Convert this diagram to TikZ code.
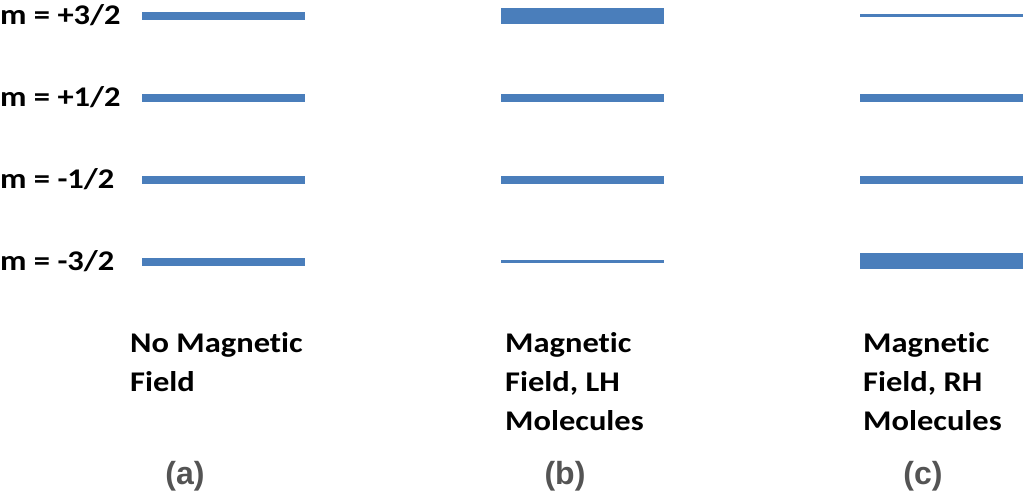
\documentclass[tikz,border=0pt]{standalone}
\usepackage{fontspec}
\setmainfont[Ligatures=NoCommon]{Carlito}
\newfontfamily\parfont{Liberation Sans}
\definecolor{barblue}{RGB}{74,126,187}
\definecolor{pargray}{RGB}{84,84,84}
\begin{document}
\begin{tikzpicture}[x=1pt,y=-1pt,
  bar/.style={rectangle, fill=barblue, draw=none, inner sep=0pt, minimum width=163pt},
  mid/.style={bar, minimum height=8pt},
  thick/.style={bar, minimum height=16pt},
  thin/.style={bar, minimum height=3pt},
  lab/.style={font=\bfseries\fontsize{28.5}{39}\selectfont, xscale=1.14, transform shape, inner sep=0pt, anchor=base west, align=left},
  par/.style={font=\parfont\bfseries\fontsize{32}{34}\selectfont, text=pargray, inner sep=0pt, anchor=base}]
\useasboundingbox (0,0) rectangle (1024,494);
% left labels
\node[lab] (m1) at (0,25) {m = +3/2};
\node[lab] (m2) at (0,107) {m = +1/2};
\node[lab] (m3) at (0,189) {m = -1/2};
\node[lab] (m4) at (0,270) {m = -3/2};
% column a
\node[mid] (a1) at (223.5,16) {};
\node[mid] (a2) at (223.5,98) {};
\node[mid] (a3) at (223.5,180) {};
\node[mid] (a4) at (223.5,262) {};
% column b
\node[thick] (b1) at (582.5,16) {};
\node[mid] (b2) at (582.5,98) {};
\node[mid] (b3) at (582.5,180) {};
\node[thin] (b4) at (582.5,261) {};
% column c
\node[thin] (c1) at (941.5,16) {};
\node[mid] (c2) at (941.5,98) {};
\node[mid] (c3) at (941.5,180) {};
\node[thick] (c4) at (941.5,261) {};
% captions (base anchor = last line)
\node[lab] (ta) at (130,391) {No Magnetic\\Field};
\node[lab] (tb) at (505,430) {Magnetic\\Field, LH\\Molecules};
\node[lab] (tc) at (863,430) {Magnetic\\Field, RH\\Molecules};
\node[par] (pa) at (185,484) {(a)};
\node[par] (pb) at (565,484) {(b)};
\node[par] (pc) at (923,484) {(c)};
\end{tikzpicture}
\end{document}
